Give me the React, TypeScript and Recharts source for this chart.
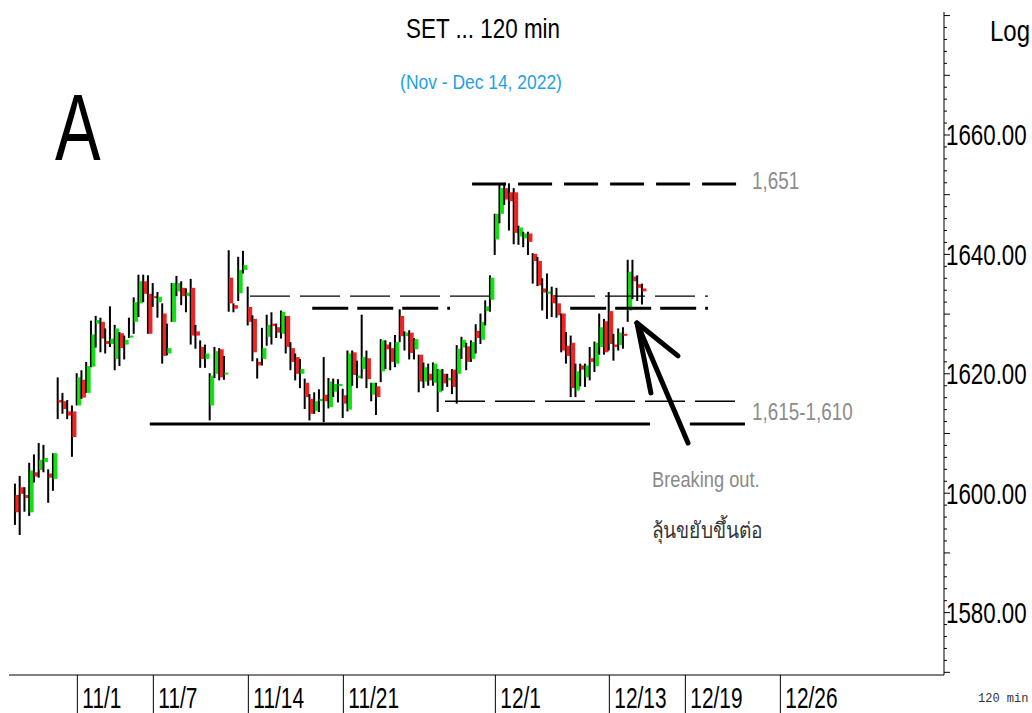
import React from 'react';
import { ComposedChart, Bar, XAxis, YAxis, ReferenceLine } from 'recharts';

// 120-min bars, SET index (index 0 = first bar on the chart)
const opens = [
  1599.7, 1601.0, 1599.7, 1596.8, 1603.5, 1603.9, 1605.2, 1603.3, 1602.4, 1615.6,
  1615.4, 1613.7, 1613.7, 1614.7, 1619.0, 1616.8, 1621.2, 1628.4, 1628.7, 1625.5,
  1625.0, 1622.5, 1626.8, 1624.9, 1626.1, 1628.7, 1631.8, 1635.5, 1633.4, 1633.0,
  1632.0, 1630.1, 1623.4, 1628.7, 1633.8, 1634.4, 1633.0, 1634.4, 1627.1, 1624.5,
  1622.5, 1614.7, 1620.0, 1624.1, 1619.9, 1636.1, 1631.5, 1633.5, 1637.4, 1631.2,
  1629.2, 1622.0, 1622.5, 1626.2, 1628.4, 1627.8, 1626.7, 1629.7, 1624.3, 1622.8,
  1620.0, 1618.5, 1615.8, 1613.8, 1615.4, 1616.5, 1614.4, 1617.0, 1618.0, 1616.4,
  1614.0, 1623.6, 1619.3, 1620.8, 1622.6, 1616.5, 1617.9, 1620.4, 1624.9, 1624.3,
  1621.7, 1629.7, 1626.3, 1626.9, 1624.1, 1623.2, 1618.7, 1620.0, 1618.5, 1616.9,
  1620.0, 1618.9, 1620.7, 1620.0, 1624.4, 1624.6, 1622.5, 1627.2, 1625.7, 1630.5,
  1632.4, 1642.5, 1646.8, 1651.1, 1650.4, 1650.4, 1643.0, 1642.7, 1643.5, 1640.1,
  1638.9, 1634.3, 1633.4, 1633.2, 1631.8, 1630.1, 1624.7, 1625.2, 1617.2, 1621.4,
  1619.4, 1622.6, 1621.3, 1624.5, 1628.8, 1630.5, 1624.9, 1624.8, 1626.7, 1630.6,
  1636.3, 1635.0, 1634.3,
];
const highs = [
  1601.6, 1602.9, 1601.0, 1605.1, 1606.5, 1608.4, 1608.1, 1604.0, 1606.7, 1619.4,
  1616.8, 1615.6, 1614.7, 1620.1, 1620.6, 1622.0, 1628.9, 1629.7, 1629.4, 1627.6,
  1631.3, 1628.2, 1627.0, 1626.4, 1629.4, 1632.8, 1636.6, 1636.6, 1636.5, 1635.2,
  1633.7, 1631.8, 1628.4, 1635.2, 1636.4, 1635.5, 1634.3, 1635.9, 1628.2, 1625.6,
  1624.9, 1620.1, 1624.5, 1624.3, 1623.0, 1640.7, 1631.8, 1639.6, 1640.6, 1634.6,
  1629.8, 1622.6, 1627.7, 1629.9, 1630.3, 1628.4, 1630.6, 1629.7, 1625.3, 1623.4,
  1622.5, 1619.2, 1616.6, 1616.9, 1617.4, 1622.8, 1619.3, 1619.2, 1619.1, 1617.5,
  1623.9, 1623.9, 1622.2, 1629.9, 1623.9, 1618.5, 1618.5, 1625.8, 1625.6, 1625.3,
  1626.5, 1630.8, 1627.1, 1627.3, 1626.0, 1623.2, 1621.9, 1621.7, 1621.9, 1620.8,
  1620.8, 1620.0, 1620.8, 1624.8, 1626.2, 1625.2, 1625.6, 1628.3, 1630.1, 1632.3,
  1636.5, 1646.8, 1651.9, 1652.0, 1651.9, 1651.1, 1644.8, 1643.8, 1643.8, 1640.2,
  1639.6, 1636.0, 1636.8, 1634.6, 1634.4, 1630.1, 1627.0, 1626.4, 1621.7, 1621.7,
  1621.7, 1624.5, 1625.4, 1630.1, 1629.2, 1633.7, 1626.7, 1627.6, 1627.8, 1639.1,
  1639.1, 1636.5, 1635.1,
];
const lows = [
  1594.7, 1593.0, 1596.9, 1596.2, 1601.8, 1602.6, 1603.5, 1598.4, 1600.4, 1612.4,
  1613.3, 1612.4, 1606.1, 1614.7, 1615.8, 1616.8, 1621.1, 1624.4, 1623.6, 1623.4,
  1624.5, 1620.6, 1621.3, 1622.4, 1626.0, 1626.7, 1629.5, 1632.0, 1626.7, 1631.2,
  1629.4, 1621.7, 1623.1, 1628.7, 1633.0, 1631.5, 1630.3, 1624.9, 1624.2, 1621.0,
  1621.0, 1612.2, 1619.3, 1618.9, 1619.0, 1630.4, 1630.3, 1632.2, 1636.8, 1628.1,
  1622.1, 1619.2, 1621.4, 1624.7, 1624.9, 1626.0, 1625.9, 1623.4, 1620.6, 1618.9,
  1617.6, 1614.1, 1612.2, 1613.3, 1613.6, 1611.9, 1614.2, 1616.1, 1615.2, 1612.6,
  1613.7, 1618.0, 1617.6, 1619.2, 1617.6, 1615.4, 1613.1, 1618.6, 1620.8, 1620.6,
  1621.1, 1625.3, 1623.9, 1622.4, 1622.4, 1616.9, 1617.6, 1618.0, 1618.0, 1613.6,
  1617.2, 1617.8, 1616.6, 1615.0, 1622.5, 1620.6, 1622.0, 1623.4, 1625.0, 1628.1,
  1630.4, 1639.9, 1645.2, 1648.3, 1644.0, 1641.7, 1641.6, 1641.2, 1639.9, 1635.1,
  1634.7, 1630.6, 1629.2, 1629.5, 1629.4, 1623.6, 1621.7, 1616.1, 1616.1, 1617.9,
  1617.8, 1618.9, 1620.3, 1623.2, 1623.2, 1623.9, 1622.2, 1623.9, 1624.2, 1628.7,
  1632.5, 1632.2, 1631.6,
];
const closes = [
  1596.8, 1599.9, 1599.2, 1603.8, 1602.8, 1605.6, 1605.9, 1602.6, 1606.7, 1615.2,
  1614.1, 1613.0, 1609.4, 1619.4, 1616.0, 1621.3, 1626.6, 1629.0, 1625.9, 1625.0,
  1625.9, 1627.6, 1624.3, 1625.7, 1626.4, 1632.0, 1635.5, 1633.4, 1626.7, 1632.7,
  1632.9, 1623.0, 1624.3, 1635.2, 1635.2, 1633.0, 1633.6, 1626.4, 1626.4, 1622.5,
  1623.4, 1619.7, 1623.8, 1619.4, 1620.2, 1631.8, 1630.9, 1637.4, 1638.2, 1628.7,
  1623.6, 1621.4, 1624.3, 1628.2, 1628.0, 1626.9, 1630.4, 1624.5, 1622.0, 1620.0,
  1620.8, 1616.1, 1613.3, 1615.4, 1615.8, 1615.4, 1618.7, 1618.3, 1618.3, 1615.0,
  1623.4, 1619.8, 1619.7, 1622.8, 1619.1, 1618.5, 1616.1, 1625.6, 1624.1, 1622.0,
  1625.3, 1626.3, 1626.9, 1623.5, 1625.8, 1618.7, 1621.1, 1618.9, 1621.7, 1620.7,
  1618.4, 1619.3, 1617.8, 1624.2, 1625.7, 1622.0, 1625.3, 1626.0, 1628.7, 1631.3,
  1636.1, 1646.8, 1651.1, 1649.2, 1648.9, 1643.6, 1644.5, 1643.5, 1642.1, 1638.9,
  1634.8, 1633.6, 1633.8, 1631.8, 1629.8, 1623.9, 1623.0, 1617.6, 1620.4, 1620.7,
  1621.4, 1622.0, 1625.2, 1627.8, 1623.6, 1625.0, 1624.5, 1626.9, 1626.4, 1637.1,
  1635.5, 1634.4, 1633.8,
];

// date separators: label and the bar index of that day's first bar
const dayLabels = ['11/1', '11/7', '11/14', '11/21', '12/1', '12/13', '12/19', '12/26'];
const dayFirstBar = [13, 29, 49, 69, 101, 125, 141, 161];

const yLabelTicks = [1580, 1600, 1620, 1640, 1660];

// annotation levels
const resistanceTop = 1651.8;
const upperThin = 1633.0;
const upperThick = 1631.0;
const lowerThin = 1615.4;
const supportSolid = 1611.6;

// arrow (bar index, price)
const arrowTip = { x: 130.67, y: 1628.5 };
const arrowTail = { x: 141.41, y: 1608.4 };
const arrowArmL = { x: 133.6, y: 1616.8 };
const arrowArmR = { x: 139.3, y: 1623.0 };

const data = opens.map((o, i) => ({
  i,
  open: o,
  high: highs[i],
  low: lows[i],
  close: closes[i],
  range: [lows[i], highs[i]],
}));

const Y_DOMAIN: [number, number] = [1569.55, 1680.6];
const X_DOMAIN: [number, number] = [-1.54, 195.3];

const minorTicks: number[] = [];
for (let v = 1570; v <= 1680; v += 2) minorTicks.push(v);

const SANS = "'Liberation Sans', Arial, sans-serif";

const Candle = (props: any) => {
  const { x, y, width, height, payload } = props;
  if (!payload) return null;
  const { open, close, high, low } = payload;
  const cx = x + width / 2;
  const k = high - low > 0 ? height / (high - low) : 0;
  const yO = y + (high - open) * k;
  const yC = y + (high - close) * k;
  const top = Math.min(yO, yC);
  const bh = Math.max(Math.abs(yC - yO), 2);
  const up = close >= open;
  return (
    <g>
      <rect x={cx - 2} y={y} width={2} height={Math.max(height, 1)} fill="#000" />
      <rect x={cx - 0.5} y={top} width={4} height={bh} fill={up ? '#12e012' : '#f22222'} />
    </g>
  );
};

const RightTick = (props: any) => {
  const { x, y, payload } = props;
  const v = payload.value;
  const major = v % 10 === 0;
  const showLabel = yLabelTicks.includes(v);
  return (
    <g>
      <line x1={x} x2={x + (major ? 6 : 3)} y1={y} y2={y} stroke="#000" strokeWidth={1} />
      {showLabel && (
        <g transform={`translate(${x + 2}, ${y}) scale(0.77, 1)`}>
          <text x={0} y={0} dy="0.36em" fontSize={29} fontFamily={SANS} fill="#000">
            {v.toFixed(2)}
          </text>
        </g>
      )}
    </g>
  );
};

const LeftTick = (props: any) => {
  const { x, y, payload } = props;
  const v = payload.value;
  const major = v % 10 === 0;
  return <line x1={x} x2={x + (major ? 6 : 3)} y1={y} y2={y} stroke="#000" strokeWidth={1} />;
};

const DateTick = (props: any) => {
  const { x, y, index } = props;
  return (
    <g>
      <line x1={x} x2={x} y1={y} y2={713} stroke="#000" strokeWidth={1} />
      <g transform={`translate(${x + 5}, 708) scale(0.72, 1)`}>
        <text x={0} y={0} fontSize={29} fontFamily={SANS} fill="#000">
          {dayLabels[index]}
        </text>
      </g>
    </g>
  );
};

const ann = (
  text: string,
  left: number,
  top: number,
  size: number,
  color: string,
  sx: number,
  family: string = SANS,
) => (
  <div
    style={{
      position: 'absolute',
      left,
      top,
      fontSize: size,
      lineHeight: 1,
      color,
      fontFamily: family,
      whiteSpace: 'nowrap',
      transform: `scaleX(${sx})`,
      transformOrigin: 'left top',
    }}
  >
    {text}
  </div>
);

export default function App() {
  return (
    <div style={{ position: 'absolute', left: 0, top: 0, width: 1032, height: 713, background: '#fff', overflow: 'hidden' }}>
      <ComposedChart
        width={1032}
        height={713}
        data={data}
        margin={{ top: 12, right: 0, bottom: 0, left: 9 }}
      >
        <XAxis
          dataKey="i"
          type="number"
          domain={X_DOMAIN}
          allowDataOverflow
          ticks={dayFirstBar.map((b) => b - 0.15)}
          interval={0}
          height={38}
          tickSize={0}
          tickMargin={0}
          tickLine={false}
          axisLine={{ stroke: '#000', strokeWidth: 1 }}
          tick={<DateTick />}
        />
        <YAxis
          yAxisId="l"
          orientation="left"
          type="number"
          domain={Y_DOMAIN}
          allowDataOverflow
          ticks={minorTicks}
          interval={0}
          width={0}
          tickSize={0}
          tickMargin={0}
          tickLine={false}
          axisLine={{ stroke: '#000', strokeWidth: 1 }}
          tick={<LeftTick />}
        />
        <YAxis
          yAxisId="r"
          orientation="right"
          type="number"
          domain={Y_DOMAIN}
          allowDataOverflow
          ticks={minorTicks}
          interval={0}
          width={88}
          tickSize={0}
          tickMargin={0}
          tickLine={false}
          axisLine={{ stroke: '#000', strokeWidth: 1 }}
          tick={<RightTick />}
        />

        <ReferenceLine yAxisId="r" segment={[{ x: 95.95, y: resistanceTop }, { x: 153.4, y: resistanceTop }]} stroke="#000" strokeWidth={3} strokeDasharray="34 12" />
        <ReferenceLine yAxisId="r" segment={[{ x: 49.2, y: upperThin }, { x: 100.1, y: upperThin }]} stroke="#000" strokeWidth={1.3} strokeDasharray="40 10" />
        <ReferenceLine yAxisId="r" segment={[{ x: 113.4, y: upperThin }, { x: 145.6, y: upperThin }]} stroke="#000" strokeWidth={1.3} strokeDasharray="40 10" />
        <ReferenceLine yAxisId="r" segment={[{ x: 62.3, y: upperThick }, { x: 91.3, y: upperThick }]} stroke="#000" strokeWidth={3} strokeDasharray="36 9" />
        <ReferenceLine yAxisId="r" segment={[{ x: 116.6, y: upperThick }, { x: 145.6, y: upperThick }]} stroke="#000" strokeWidth={3} strokeDasharray="36 9" />
        <ReferenceLine yAxisId="r" segment={[{ x: 90.25, y: lowerThin }, { x: 153.4, y: lowerThin }]} stroke="#000" strokeWidth={1.3} strokeDasharray="40 10" />
        <ReferenceLine yAxisId="r" segment={[{ x: 28.1, y: supportSolid }, { x: 133.4, y: supportSolid }]} stroke="#000" strokeWidth={3} />
        <ReferenceLine yAxisId="r" segment={[{ x: 141.8, y: supportSolid }, { x: 153.4, y: supportSolid }]} stroke="#000" strokeWidth={3} />

        <Bar
          yAxisId="r"
          dataKey="range"
          barSize={4}
          shape={<Candle />}
          isAnimationActive={false}
        />

        {/* arrow */}
        <ReferenceLine yAxisId="r" segment={[arrowTail, arrowTip]} stroke="#000" strokeWidth={5} strokeLinecap="round" />
        <ReferenceLine yAxisId="r" segment={[arrowTip, arrowArmL]} stroke="#000" strokeWidth={5} strokeLinecap="round" />
        <ReferenceLine yAxisId="r" segment={[arrowTip, arrowArmR]} stroke="#000" strokeWidth={5} strokeLinecap="round" />
      </ComposedChart>

      <div style={{ position: 'absolute', left: 333, width: 300, top: 15, textAlign: 'center', fontSize: 28, lineHeight: 1, fontFamily: SANS, color: '#000', transform: 'scaleX(0.8)', transformOrigin: 'center top' }}>
        SET ... 120 min
      </div>
      <div style={{ position: 'absolute', left: 331, width: 300, top: 71, textAlign: 'center', fontSize: 21, lineHeight: 1, fontFamily: SANS, color: '#1ea0e6', transform: 'scaleX(0.83)', transformOrigin: 'center top' }}>
        (Nov - Dec 14, 2022)
      </div>
      {ann('A', 55, 80, 95, '#000', 0.72)}
      {ann('Log', 990, 16, 30, '#000', 0.8)}
      {ann('1,651', 752, 170, 23, '#8c8c8c', 0.82)}
      {ann('1,615-1,610', 752, 401, 23, '#8c8c8c', 0.82)}
      {ann('Breaking out.', 652, 469, 22, '#8a8a8a', 0.83)}
      {ann('ลุ้นขยับขึ้นต่อ', 652, 518, 22, '#333', 0.87, "'Noto Sans', 'DejaVu Sans', sans-serif")}
      <div style={{ position: 'absolute', left: 978, top: 693, fontSize: 12, lineHeight: 1, fontFamily: "'Liberation Mono', 'DejaVu Sans Mono', monospace", color: '#333' }}>
        120 min
      </div>
    </div>
  );
}
